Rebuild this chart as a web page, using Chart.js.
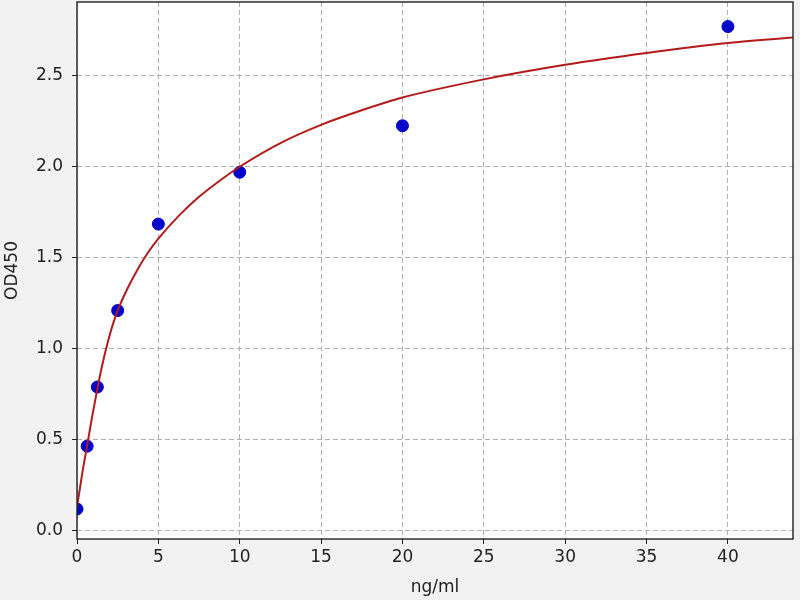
<!DOCTYPE html>
<html>
<head>
<meta charset="utf-8">
<script src="https://cdn.jsdelivr.net/npm/chart.js@4/dist/chart.umd.min.js"></script>
<style>
  html, body { margin: 0; padding: 0; background: #f2f2f2; }
  #wrap { width: 800px; height: 600px; }
</style>
</head>
<body>
<div id="wrap"><canvas id="grafico" width="800" height="600"></canvas></div>
<script>
// measured standards
const conc = [0, 0.625, 1.25, 2.5, 5, 10, 20, 40];
const od = [0.12, 0.465, 0.79, 1.21, 1.685, 1.97, 2.225, 2.77];

// fitted curve
const curveX = [0, 0.3125, 0.625, 0.9375, 1.25, 1.5625, 1.875, 2.1875, 2.5, 3.125, 3.75, 4.375, 5, 6.25, 7.5, 8.75, 10, 12.5, 15, 17.5, 20, 25, 30, 35, 40, 44];
const curveY = [0.13, 0.31, 0.47, 0.63, 0.78, 0.915, 1.03, 1.13, 1.21, 1.335, 1.44, 1.53, 1.605, 1.73, 1.835, 1.922, 2.0, 2.13, 2.23, 2.31, 2.38, 2.48, 2.56, 2.625, 2.68, 2.71];

const xTicks = [0, 5, 10, 15, 20, 25, 30, 35, 40];
const yTicks = [0, 0.5, 1.0, 1.5, 2.0, 2.5];

const frame = {
  id: 'frame',
  beforeDraw(chart) {
    const { ctx, chartArea: a } = chart;
    ctx.save();
    ctx.fillStyle = '#f2f2f2';
    ctx.fillRect(0, 0, chart.width, chart.height);
    ctx.fillStyle = '#ffffff';
    ctx.fillRect(a.left, a.top, a.right - a.left, a.bottom - a.top);
    ctx.restore();
  },
  afterDraw(chart) {
    const { ctx, chartArea: a } = chart;
    ctx.save();
    ctx.strokeStyle = '#222';
    ctx.lineWidth = 1.4;
    ctx.strokeRect(a.left, a.top, a.right - a.left, a.bottom - a.top);
    ctx.restore();
  }
};

const ctx = document.getElementById('grafico').getContext('2d');

new Chart(ctx, {
  type: 'scatter',
  data: {
    datasets: [{
      label: 'fit',
      data: curveX.map((x, i) => ({ x: x, y: curveY[i] })),
      showLine: true,
      borderColor: '#b31b1b',
      borderWidth: 2,
      pointRadius: 0,
      cubicInterpolationMode: 'monotone',
      order: 0
    }, {
      label: 'OD',
      data: conc.map((x, i) => ({ x: x, y: od[i] })),
      backgroundColor: '#0000cc',
      borderColor: '#0000cc',
      pointRadius: 6,
      order: 1
    }]
  },
  options: {
    responsive: false,
    animation: false,
    layout: { autoPadding: false, padding: { top: 2, right: 7, left: 0, bottom: 0 } },
    plugins: {
      legend: { display: false },
      tooltip: { enabled: false }
    },
    scales: {
      x: {
        type: 'linear',
        min: 0,
        max: 44,
        afterBuildTicks: s => { s.ticks = xTicks.map(v => ({ value: v })); },
        afterFit: s => { s.height = 61; s.paddingLeft = 0; s.paddingRight = 0; },
        ticks: { color: '#222', padding: 3, font: { family: 'DejaVu Sans', size: 17 } },
        grid: { color: '#b0b0b0', tickColor: '#222', tickLength: 5, tickBorderDash: [] },
        border: { display: false, dash: [5, 3] },
        title: { display: true, text: 'ng/ml', color: '#222', padding: { top: 2, bottom: 2 }, font: { family: 'DejaVu Sans', size: 17 } }
      },
      y: {
        min: -0.045,
        max: 2.905,
        afterBuildTicks: s => { s.ticks = yTicks.map(v => ({ value: v })); },
        afterFit: s => { s.width = 77; s.paddingTop = 0; s.paddingBottom = 0; },
        ticks: { color: '#222', padding: 9, callback: v => v.toFixed(1), font: { family: 'DejaVu Sans', size: 17 } },
        grid: { color: '#b0b0b0', tickColor: '#222', tickLength: 5, tickBorderDash: [] },
        border: { display: false, dash: [5, 3] },
        title: { display: true, text: 'OD450', color: '#222', padding: { top: 2, bottom: 0 }, font: { family: 'DejaVu Sans', size: 17 } }
      }
    }
  },
  plugins: [frame]
});
</script>
</body>
</html>
